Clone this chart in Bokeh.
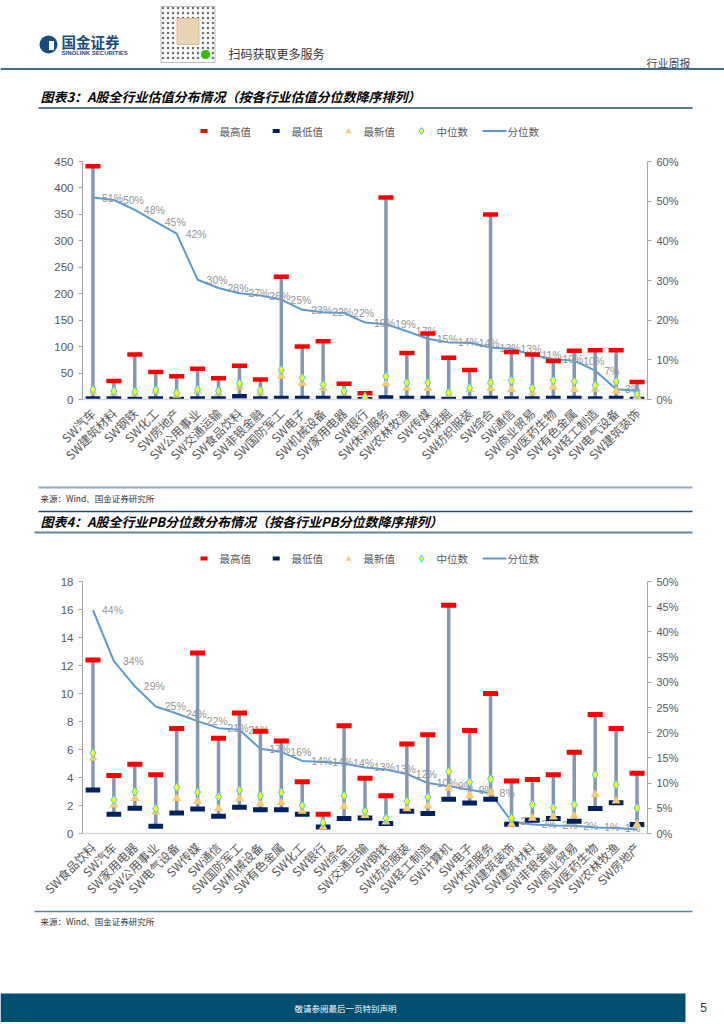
import math
from bokeh.plotting import figure
from bokeh.models import Range1d, FactorRange, LinearAxis, FixedTicker, NumeralTickFormatter
from bokeh.layouts import column
from bokeh.embed import file_html
from bokeh.resources import INLINE
from bokeh.core.properties import value

# ---------------- data: chart 3 (PE valuation) ----------------
cats1 = ["SW汽车", "SW建筑材料", "SW钢铁", "SW化工", "SW房地产", "SW公用事业", "SW交通运输",
         "SW食品饮料", "SW非银金融", "SW国防军工", "SW电子", "SW机械设备", "SW家用电器", "SW银行",
         "SW休闲服务", "SW农林牧渔", "SW传媒", "SW采掘", "SW纺织服装", "SW综合", "SW通信",
         "SW商业贸易", "SW医药生物", "SW有色金属", "SW轻工制造", "SW电气设备", "SW建筑装饰"]
max1 = [441, 35, 85, 52, 44, 58, 40, 64, 38, 232, 100, 110, 30, 12, 382, 88, 125, 79, 56, 350,
        90, 85, 73, 92, 93, 93, 33]
min1 = [2, 2, 1, 2, 1, 2, 2, 6, 2, 3, 3, 3, 3, 0.5, 4, 3, 3, 1, 2, 3, 2, 2, 3, 3, 2, 3, 1]
latest1 = [14, 12, 11, 16, 8, 16, 12, 24, 13, 44, 31, 21, 13, 3.5, 30, 22, 21, 10, 19, 21, 19,
           13, 24, 19, 20, 16, 6]
median1 = [19, 16, 15, 18, 12.5, 19, 16, 30, 17, 56, 41, 28, 16, 5, 44, 32, 32, 13, 22, 32, 36,
           21, 36, 34, 27, 34, 10]
pct1 = [0.509, 0.503, 0.478, 0.448, 0.418, 0.302, 0.281, 0.268, 0.262, 0.252, 0.226, 0.220,
        0.218, 0.194, 0.190, 0.172, 0.153, 0.144, 0.143, 0.131, 0.128, 0.112, 0.102, 0.098,
        0.073, 0.026, 0.022]
yticks1 = [0, 50, 100, 150, 200, 250, 300, 350, 400, 450]
pticks1 = [0, 0.1, 0.2, 0.3, 0.4, 0.5, 0.6]

# ---------------- data: chart 4 (PB) ----------------
cats2 = ["SW食品饮料", "SW汽车", "SW家用电器", "SW公用事业", "SW电气设备", "SW传媒", "SW通信",
         "SW国防军工", "SW机械设备", "SW有色金属", "SW化工", "SW银行", "SW综合", "SW交通运输",
         "SW钢铁", "SW纺织服装", "SW轻工制造", "SW计算机", "SW电子", "SW休闲服务", "SW建筑装饰",
         "SW建筑材料", "SW非银金融", "SW商业贸易", "SW医药生物", "SW农林牧渔", "SW房地产"]
max2 = [12.4, 4.15, 4.95, 4.2, 7.5, 12.9, 6.8, 8.6, 7.3, 6.6, 3.7, 1.37, 7.7, 3.95, 2.7, 6.4,
        7.05, 16.3, 7.35, 10.0, 3.75, 3.85, 4.2, 5.8, 8.5, 7.5, 4.3]
min2 = [3.1, 1.37, 1.8, 0.52, 1.47, 1.75, 1.23, 1.87, 1.7, 1.7, 1.37, 0.47, 1.07, 1.1, 0.71,
        1.59, 1.42, 2.44, 2.18, 2.44, 0.66, 0.95, 1.07, 0.88, 1.78, 2.2, 0.64]
latest2 = [5.4, 2.05, 2.5, 1.55, 2.5, 2.3, 1.78, 2.5, 2.13, 2.2, 1.6, 0.47, 1.94, 1.3, 0.83,
           1.78, 1.97, 3.24, 2.72, 2.91, 0.66, 1.1, 1.18, 1.26, 2.77, 2.32, 0.64]
median2 = [5.75, 2.4, 3.0, 1.78, 3.3, 2.96, 2.63, 3.1, 2.7, 2.94, 2.0, 0.78, 2.72, 1.59, 1.1,
           2.3, 2.6, 4.43, 3.67, 3.9, 1.1, 2.06, 1.85, 2.06, 4.2, 3.48, 1.82]
pct2 = [0.443, 0.342, 0.292, 0.252, 0.238, 0.223, 0.209, 0.206, 0.168, 0.162, 0.144, 0.142,
        0.139, 0.131, 0.127, 0.118, 0.100, 0.094, 0.087, 0.080, 0.024, 0.018, 0.016, 0.0152,
        0.012, 0.011, 0.008]
yticks2 = [0, 2, 4, 6, 8, 10, 12, 14, 16, 18]
pticks2 = [0, 0.05, 0.1, 0.15, 0.2, 0.25, 0.3, 0.35, 0.4, 0.45, 0.5]

legend_labels = ["最高值", "最低值", "最新值", "中位数", "分位数"]
title3 = "图表3：A股全行业估值分布情况（按各行业估值分位数降序排列）"
title4 = "图表4：A股全行业PB分位数分布情况（按各行业PB分位数降序排列）"
source_text = "来源：Wind、国金证券研究所"

# ---------------- style ----------------
W = 724
CJK = "Noto Sans CJK SC"
NUM = "Liberation Sans"
C_MAX = "#FF0000"
C_MIN = "#002060"
C_BAR = "#8497B0"
C_LAT = "#F8CB6E"
C_MED = "#FFFF00"
C_MED_L = "#33CCFF"
C_LINE = "#5B9BD5"
C_TICK = "#595959"


def no_align(p):
    try:
        p.frame_align = False
    except Exception:
        pass


def blank(top, bottom):
    p = figure(width=W, height=bottom - top, x_range=Range1d(0, W), y_range=Range1d(bottom, top),
               output_backend="svg", toolbar_location=None, min_border=0,
               x_axis_location=None, y_axis_location=None)
    p.grid.visible = False
    p.outline_line_color = None
    p.background_fill_color = "white"
    p.border_fill_color = "white"
    no_align(p)
    return p


def txt(p, x, y, s, size, color="#333333", font=CJK, align="left", style="normal"):
    p.text(x=[x], y=[y], text=[s], text_font=value(font), text_font_size=f"{size}px",
           text_color=color, text_align=align, text_baseline="middle", text_font_style=style)


def hline(p, x0, x1, y, color, w):
    p.segment(x0=[x0], y0=[y], x1=[x1], y1=[y], line_color=color, line_width=w)


def legend(p, y):
    p.rect(x=[203.5], y=[y], width=7, height=4, fill_color=C_MAX, line_color=None)
    p.rect(x=[275.7], y=[y], width=7, height=4, fill_color=C_MIN, line_color=None)
    p.scatter(x=[348], y=[y + 0.5], marker="triangle", size=6, fill_color=C_LAT, line_color=None)
    p.scatter(x=[421], y=[y], marker="diamond", size=7, fill_color=C_MED, line_color=C_MED_L,
              line_width=1)
    p.segment(x0=[482], y0=[y], x1=[506], y1=[y], line_color=C_LINE, line_width=2)
    xs = [219, 291, 363, 436, 507]
    for xx, lab in zip(xs, legend_labels):
        txt(p, xx, y, lab, 10.5, color=C_TICK)


def chart(cats, mx, mn, latest, med, pct, yticks, pticks, top_b, frame_h, bot_b, rect_h):
    p = figure(width=W, height=top_b + frame_h + bot_b, x_range=FactorRange(*cats),
               y_range=Range1d(yticks[0], yticks[-1]), output_backend="svg",
               toolbar_location=None, min_border_left=82, min_border_right=77,
               min_border_top=top_b, min_border_bottom=bot_b)
    no_align(p)
    p.extra_y_ranges = {"pct": Range1d(pticks[0], pticks[-1])}
    p.grid.visible = False
    p.outline_line_color = None
    p.background_fill_color = "white"
    p.border_fill_color = "white"

    # left axis
    ya = p.yaxis[0]
    ya.ticker = FixedTicker(ticks=yticks)
    ya.axis_line_color = "#A6A6A6"
    ya.major_tick_line_color = "#A6A6A6"
    ya.major_tick_out = 4
    ya.major_tick_in = 0
    ya.minor_tick_line_color = None
    ya.major_label_text_font = NUM
    ya.major_label_text_font_size = "11.5px"
    ya.major_label_text_color = C_TICK
    ya.major_label_standoff = 5

    # right axis
    ra = LinearAxis(y_range_name="pct", ticker=FixedTicker(ticks=pticks),
                    formatter=NumeralTickFormatter(format="0%"))
    ra.axis_line_color = "#A6A6A6"
    ra.major_tick_line_color = "#A6A6A6"
    ra.major_tick_out = 4
    ra.major_tick_in = 0
    ra.minor_tick_line_color = None
    ra.major_label_text_font = NUM
    ra.major_label_text_font_size = "11px"
    ra.major_label_text_color = C_TICK
    ra.major_label_standoff = 5
    p.add_layout(ra, "right")

    # bottom axis
    xa = p.xaxis[0]
    xa.axis_line_color = "#D9D9D9"
    xa.axis_line_width = 1.5
    xa.major_tick_line_color = None
    xa.major_label_orientation = math.pi / 4
    xa.major_label_text_font = CJK
    xa.major_label_text_font_size = "12px"
    xa.major_label_text_color = C_TICK
    xa.major_label_standoff = 5

    # percentile line + labels
    p.line(x=cats, y=pct, y_range_name="pct", line_color=C_LINE, line_width=2)
    p.text(x=cats, y=pct, text=[f"{round(v * 100)}%" for v in pct], y_range_name="pct",
           x_offset=9, text_align="left", text_baseline="middle", text_font=value(NUM),
           text_font_size="10.5px", text_color="#959595")

    # high-low bars
    p.segment(x0=cats, y0=mn, x1=cats, y1=mx, line_color=C_BAR, line_width=3.5)
    p.rect(x=cats, y=mx, width=0.72, height=rect_h, height_units="screen",
           fill_color=C_MAX, line_color=None)
    p.rect(x=cats, y=mn, width=0.7, height=rect_h, height_units="screen",
           fill_color=C_MIN, line_color=None)
    p.scatter(x=cats, y=latest, marker="triangle", size=9, fill_color=C_LAT, line_color=None)
    p.scatter(x=cats, y=med, marker="diamond", size=9, fill_color=C_MED, line_color=C_MED_L,
              line_width=1)
    return p


# ---------------- header (page y 0..145) ----------------
hdr = blank(0, 145)
hdr.circle(x=[48], y=[44], radius=9, fill_color="#1B4C7C", line_color=None)
hdr.rect(x=[51], y=[45], width=5, height=9, fill_color="white", line_color=None)
txt(hdr, 61, 41, "国金证券", 14.5, color="#1B4C7C", style="bold")
txt(hdr, 61, 52, "SINOLINK SECURITIES", 6, color="#1B4C7C", font=NUM, style="bold")
hdr.rect(x=[187.5], y=[34], width=54, height=56, fill_color="#FFFFFF", line_color="#BDBDBD",
         hatch_pattern="dot", hatch_color="#6E6E6E", hatch_scale=5, hatch_weight=1)
hdr.rect(x=[187.5], y=[31], width=22, height=26, fill_color="#E9D3B2", line_color="#D8BC95")
hdr.circle(x=[205], y=[54], radius=5, fill_color="#2DC100", line_color="white")
txt(hdr, 228, 53, "扫码获取更多服务", 12, color="#333333")
txt(hdr, 690, 62, "行业周报", 11, color="#444444", align="right")
hline(hdr, 0, W, 68.5, "#3E6E8E", 2)
txt(hdr, 40, 96, title3, 13, color="#000000", style="bold italic")
hline(hdr, 38, 692, 107.5, "#1F4E79", 1.5)
legend(hdr, 130.5)

# ---------------- chart 3 (page y 145..480) ----------------
ch1 = chart(cats1, max1, min1, latest1, median1, pct1, yticks1, pticks1, 16, 238, 81, 4.5)

# ---------------- middle (page y 480..572) ----------------
mid = blank(480, 572)
hline(mid, 38, 692, 487, "#8FAABF", 2)
txt(mid, 40, 497, source_text, 8.5, color="#333333")
hline(mid, 38, 692, 511, "#1F4E79", 1.5)
txt(mid, 40, 521, title4, 13, color="#000000", style="bold italic")
hline(mid, 34, 692, 532, "#5F86A3", 2)
legend(mid, 558)

# ---------------- chart 4 (page y 572..905) ----------------
ch2 = chart(cats2, max2, min2, latest2, median2, pct2, yticks2, pticks2, 9, 254, 70, 5)

# ---------------- footer (page y 905..1022) ----------------
ftr = blank(905, 1022)
hline(ftr, 34, 692, 911, "#5F86A3", 1.5)
txt(ftr, 40, 920, source_text, 8.5, color="#333333")
ftr.quad(left=[0], right=[685], top=[993], bottom=[1022], fill_color="#004E70", line_color=None)
txt(ftr, 345, 1007, "敬请参阅最后一页特别声明", 8.5, color="#FFFFFF", align="center")
txt(ftr, 703, 1007, "5", 12, color="#333333", font=NUM, align="center")

layout = column(hdr, ch1, mid, ch2, ftr, spacing=0)
open("out.html", "w").write(file_html(layout, INLINE))
